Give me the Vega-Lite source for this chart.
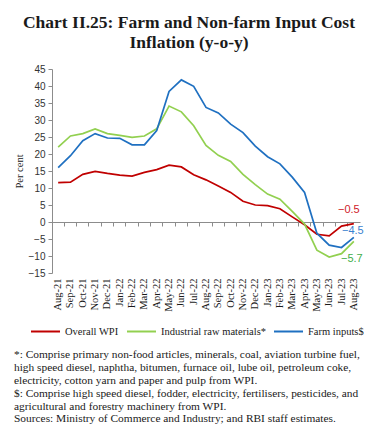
{
  "$schema": "https://vega.github.io/schema/vega-lite/v6.json",
  "padding": {"left": 14, "top": 13, "right": 0, "bottom": 0},
  "background": "white",
  "title": {
    "text": ["Chart II.25: Farm and Non-farm Input Cost", "Inflation (y-o-y)"],
    "font": "Liberation Serif",
    "fontSize": 17.5,
    "fontWeight": "bold",
    "lineHeight": 20,
    "anchor": "middle",
    "frame": "bounds",
    "offset": 13,
    "color": "#1a1a1a"
  },
  "config": {
    "view": {"stroke": null},
    "axisY": {
      "title": "Per cent",
      "titleFont": "Liberation Serif",
      "titleFontSize": 10.5,
      "titleFontWeight": "normal",
      "titleColor": "#1a1a1a",
      "titlePadding": 6,
      "labelOverlap": false,
      "labelFont": "Liberation Sans",
      "labelFontSize": 10,
      "labelColor": "#333333",
      "labelPadding": 3,
      "tickSize": 4,
      "tickColor": "#8c8c8c",
      "domainColor": "#8c8c8c",
      "grid": false,
      "minExtent": 22,
      "maxExtent": 22
    }
  },
  "vconcat": [
    {
      "width": 308,
      "height": 204,
      "title": {
        "text": [
          "*: Comprise primary non-food articles, minerals, coal, aviation turbine fuel,",
          "high speed diesel, naphtha, bitumen, furnace oil, lube oil, petroleum coke,",
          "electricity, cotton yarn and paper and pulp from WPI.",
          "$: Comprise high speed diesel, fodder, electricity, fertilisers, pesticides, and",
          "agricultural and forestry machinery from WPI."
        ],
        "subtitle": "Sources: Ministry of Commerce and Industry; and RBI staff estimates.",
        "orient": "bottom",
        "anchor": "start",
        "frame": "bounds",
        "font": "Liberation Serif",
        "fontSize": 11.4,
        "fontWeight": "normal",
        "lineHeight": 13,
        "color": "#1a1a1a",
        "subtitleFont": "Liberation Serif",
        "subtitleFontSize": 11.4,
        "subtitleColor": "#1a1a1a",
        "subtitlePadding": 0,
        "subtitleLineHeight": 13,
        "offset": 38
      },
      "data": {
        "values": [
          {"month": "Aug-21", "series": "Overall WPI", "value": 11.6},
          {"month": "Sep-21", "series": "Overall WPI", "value": 11.7},
          {"month": "Oct-21", "series": "Overall WPI", "value": 14.0},
          {"month": "Nov-21", "series": "Overall WPI", "value": 14.9},
          {"month": "Dec-21", "series": "Overall WPI", "value": 14.3},
          {"month": "Jan-22", "series": "Overall WPI", "value": 13.8},
          {"month": "Feb-22", "series": "Overall WPI", "value": 13.5},
          {"month": "Mar-22", "series": "Overall WPI", "value": 14.6},
          {"month": "Apr-22", "series": "Overall WPI", "value": 15.4},
          {"month": "May-22", "series": "Overall WPI", "value": 16.7},
          {"month": "Jun-22", "series": "Overall WPI", "value": 16.2},
          {"month": "Jul-22", "series": "Overall WPI", "value": 13.9},
          {"month": "Aug-22", "series": "Overall WPI", "value": 12.4},
          {"month": "Sep-22", "series": "Overall WPI", "value": 10.6},
          {"month": "Oct-22", "series": "Overall WPI", "value": 8.7},
          {"month": "Nov-22", "series": "Overall WPI", "value": 6.1},
          {"month": "Dec-22", "series": "Overall WPI", "value": 5.0},
          {"month": "Jan-23", "series": "Overall WPI", "value": 4.8},
          {"month": "Feb-23", "series": "Overall WPI", "value": 3.9},
          {"month": "Mar-23", "series": "Overall WPI", "value": 1.5},
          {"month": "Apr-23", "series": "Overall WPI", "value": -0.8},
          {"month": "May-23", "series": "Overall WPI", "value": -3.6},
          {"month": "Jun-23", "series": "Overall WPI", "value": -4.1},
          {"month": "Jul-23", "series": "Overall WPI", "value": -1.2},
          {"month": "Aug-23", "series": "Overall WPI", "value": -0.5},
          {"month": "Aug-21", "series": "Industrial raw materials*", "value": 22.0},
          {"month": "Sep-21", "series": "Industrial raw materials*", "value": 25.3},
          {"month": "Oct-21", "series": "Industrial raw materials*", "value": 26.0},
          {"month": "Nov-21", "series": "Industrial raw materials*", "value": 27.4},
          {"month": "Dec-21", "series": "Industrial raw materials*", "value": 26.0},
          {"month": "Jan-22", "series": "Industrial raw materials*", "value": 25.5},
          {"month": "Feb-22", "series": "Industrial raw materials*", "value": 24.9},
          {"month": "Mar-22", "series": "Industrial raw materials*", "value": 25.3},
          {"month": "Apr-22", "series": "Industrial raw materials*", "value": 27.4},
          {"month": "May-22", "series": "Industrial raw materials*", "value": 34.1},
          {"month": "Jun-22", "series": "Industrial raw materials*", "value": 32.4},
          {"month": "Jul-22", "series": "Industrial raw materials*", "value": 28.3},
          {"month": "Aug-22", "series": "Industrial raw materials*", "value": 22.5},
          {"month": "Sep-22", "series": "Industrial raw materials*", "value": 19.6},
          {"month": "Oct-22", "series": "Industrial raw materials*", "value": 17.8},
          {"month": "Nov-22", "series": "Industrial raw materials*", "value": 14.0},
          {"month": "Dec-22", "series": "Industrial raw materials*", "value": 11.0},
          {"month": "Jan-23", "series": "Industrial raw materials*", "value": 8.2},
          {"month": "Feb-23", "series": "Industrial raw materials*", "value": 6.7},
          {"month": "Mar-23", "series": "Industrial raw materials*", "value": 3.1},
          {"month": "Apr-23", "series": "Industrial raw materials*", "value": -0.6},
          {"month": "May-23", "series": "Industrial raw materials*", "value": -8.3},
          {"month": "Jun-23", "series": "Industrial raw materials*", "value": -10.3},
          {"month": "Jul-23", "series": "Industrial raw materials*", "value": -9.3},
          {"month": "Aug-23", "series": "Industrial raw materials*", "value": -5.7},
          {"month": "Aug-21", "series": "Farm inputs$", "value": 16.0},
          {"month": "Sep-21", "series": "Farm inputs$", "value": 19.5},
          {"month": "Oct-21", "series": "Farm inputs$", "value": 23.9},
          {"month": "Nov-21", "series": "Farm inputs$", "value": 26.0},
          {"month": "Dec-21", "series": "Farm inputs$", "value": 24.7},
          {"month": "Jan-22", "series": "Farm inputs$", "value": 24.6},
          {"month": "Feb-22", "series": "Farm inputs$", "value": 22.7},
          {"month": "Mar-22", "series": "Farm inputs$", "value": 22.7},
          {"month": "Apr-22", "series": "Farm inputs$", "value": 26.9},
          {"month": "May-22", "series": "Farm inputs$", "value": 38.4},
          {"month": "Jun-22", "series": "Farm inputs$", "value": 41.8},
          {"month": "Jul-22", "series": "Farm inputs$", "value": 39.9},
          {"month": "Aug-22", "series": "Farm inputs$", "value": 33.7},
          {"month": "Sep-22", "series": "Farm inputs$", "value": 32.1},
          {"month": "Oct-22", "series": "Farm inputs$", "value": 28.8},
          {"month": "Nov-22", "series": "Farm inputs$", "value": 26.3},
          {"month": "Dec-22", "series": "Farm inputs$", "value": 22.3},
          {"month": "Jan-23", "series": "Farm inputs$", "value": 19.2},
          {"month": "Feb-23", "series": "Farm inputs$", "value": 17.1},
          {"month": "Mar-23", "series": "Farm inputs$", "value": 13.2},
          {"month": "Apr-23", "series": "Farm inputs$", "value": 8.7},
          {"month": "May-23", "series": "Farm inputs$", "value": -3.3},
          {"month": "Jun-23", "series": "Farm inputs$", "value": -6.8},
          {"month": "Jul-23", "series": "Farm inputs$", "value": -7.5},
          {"month": "Aug-23", "series": "Farm inputs$", "value": -4.5}
        ]
      },
      "resolve": {"axis": {"x": "independent"}},
      "layer": [
        {
          "mark": {"type": "line", "strokeWidth": 1.7},
          "encoding": {
            "x": {
              "field": "month",
              "type": "ordinal",
              "sort": null,
              "scale": {"type": "band", "paddingInner": 0, "paddingOuter": 0},
              "axis": {
                "title": null,
                "labelAngle": -90,
                "labelFont": "Liberation Serif",
                "labelFontSize": 10.5,
                "labelColor": "#1a1a1a",
                "labelPadding": 5,
                "ticks": false,
                "domain": false,
                "grid": false,
                "bandPosition": 0.5
              }
            },
            "y": {
              "field": "value",
              "type": "quantitative",
              "scale": {"domain": [-15, 45], "nice": false, "zero": false},
              "axis": {"title": "Per cent", "values": [-15, -10, -5, 0, 5, 10, 15, 20, 25, 30, 35, 40, 45], "tickCount": 13}
            },
            "color": {
              "field": "series",
              "type": "nominal",
              "scale": {
                "domain": ["Overall WPI", "Industrial raw materials*", "Farm inputs$"],
                "range": ["#c00000", "#92d050", "#1f70c1"]
              },
              "legend": {
                "title": null,
                "orient": "none",
                "direction": "horizontal",
                "legendX": -22,
                "legendY": 247,
                "symbolType": "stroke",
                "symbolSize": 841,
                "symbolStrokeWidth": 2,
                "labelFont": "Liberation Serif",
                "labelFontSize": 10.5,
                "labelColor": "#1a1a1a",
                "columnPadding": 4,
                "labelOffset": 4
              }
            }
          }
        },
        {
          "transform": [{"filter": "datum.month == 'Aug-23' && datum.series == 'Overall WPI'"}],
          "mark": {"type": "text", "font": "Liberation Sans", "fontSize": 11, "color": "#d0202a", "dx": -5, "dy": -14},
          "encoding": {
            "x": {
              "field": "month",
              "type": "ordinal",
              "sort": null,
              "axis": {
                "orient": "bottom",
                "offset": -51,
                "labels": false,
                "title": null,
                "grid": false,
                "ticks": true,
                "tickSize": 4,
                "tickColor": "#8c8c8c",
                "domainColor": "#8c8c8c",
                "bandPosition": 0
              }
            },
            "y": {"field": "value", "type": "quantitative", "axis": {"title": "Per cent", "values": [-15, -10, -5, 0, 5, 10, 15, 20, 25, 30, 35, 40, 45], "tickCount": 13}},
            "text": {"field": "value", "type": "quantitative", "format": ".1f"}
          }
        },
        {
          "transform": [{"filter": "datum.month == 'Aug-23' && datum.series == 'Farm inputs$'"}],
          "mark": {"type": "text", "font": "Liberation Sans", "fontSize": 11, "color": "#3b82d0", "dx": -1, "dy": -6},
          "encoding": {
            "x": {"field": "month", "type": "ordinal", "sort": null, "axis": null},
            "y": {"field": "value", "type": "quantitative", "axis": {"title": "Per cent", "values": [-15, -10, -5, 0, 5, 10, 15, 20, 25, 30, 35, 40, 45], "tickCount": 13}},
            "text": {"field": "value", "type": "quantitative", "format": ".1f"}
          }
        },
        {
          "transform": [{"filter": "datum.month == 'Aug-23' && datum.series == 'Industrial raw materials*'"}],
          "mark": {"type": "text", "font": "Liberation Sans", "fontSize": 11, "color": "#3fae49", "dx": -2, "dy": 18},
          "encoding": {
            "x": {"field": "month", "type": "ordinal", "sort": null, "axis": null},
            "y": {"field": "value", "type": "quantitative", "axis": {"title": "Per cent", "values": [-15, -10, -5, 0, 5, 10, 15, 20, 25, 30, 35, 40, 45], "tickCount": 13}},
            "text": {"field": "value", "type": "quantitative", "format": ".1f"}
          }
        }
      ]
    }
  ]
}
